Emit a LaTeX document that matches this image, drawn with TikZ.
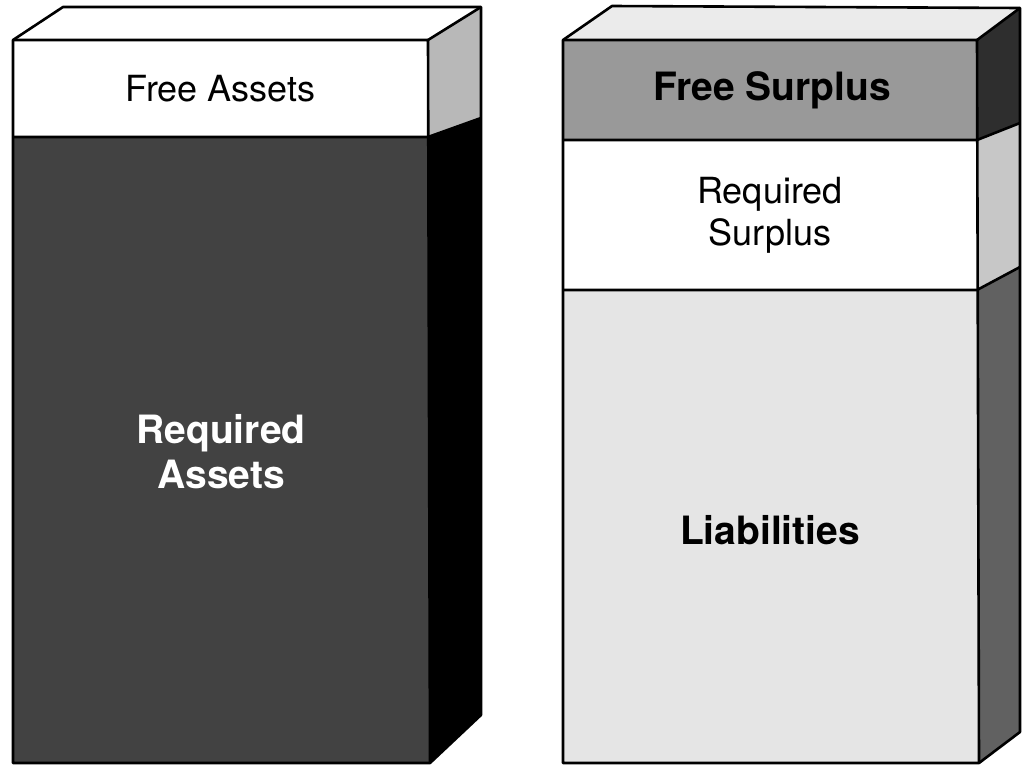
\documentclass[tikz,border=0pt]{standalone}
\usepackage{fontspec}
\setmainfont{TeX Gyre Heros}
\usetikzlibrary{calc}
\colorlet{TopFace}{white}
\colorlet{TopFaceDotted}{black!8}
\colorlet{FreeAssetsFront}{white}
\colorlet{RequiredAssetsFront}{black!74}
\colorlet{FreeAssetsSide}{black!28}
\colorlet{RequiredAssetsSide}{black}
\colorlet{FreeSurplusFront}{black!40}
\colorlet{RequiredSurplusFront}{white}
\colorlet{LiabilitiesFront}{black!10}
\colorlet{FreeSurplusSide}{black!82}
\colorlet{RequiredSurplusSide}{black!22}
\colorlet{LiabilitiesSide}{black!62}
\tikzset{
  label text/.style={font=\fontsize{36}{42}\selectfont, align=center},
  bold label/.style={font=\fontsize{39}{45}\selectfont\bfseries, align=center}
}

\begin{document}
\begin{tikzpicture}[x=1pt, y=-1pt, line width=2.6pt, line join=round]
    \useasboundingbox (0,0) rectangle (1022,766);

    % Caja izquierda: cara frontal, cara superior y cara lateral
    \coordinate (A) at (13, 40);
    \coordinate (B) at (428, 40);
    \coordinate (C) at (481, 7);
    \coordinate (D) at (63, 7);
    \coordinate (E) at (13, 137);
    \coordinate (F) at (428, 137);
    \coordinate (G) at (481, 118);
    \coordinate (H) at (13, 763);
    \coordinate (I) at (430, 763);
    \coordinate (J) at (481, 715);

    \fill[TopFace] (A) -- (D) -- (C) -- (B) -- cycle;
    \fill[FreeAssetsFront] (A) -- (B) -- (F) -- (E) -- cycle;
    \fill[RequiredAssetsFront] (E) -- (F) -- (I) -- (H) -- cycle;
    \fill[FreeAssetsSide] (B) -- (C) -- (G) -- (F) -- cycle;
    \fill[RequiredAssetsSide] (F) -- (G) -- (J) -- (I) -- cycle;

    \draw (H) -- (A) -- (D) -- (C) -- (J) -- (I) -- cycle;
    \draw (A) -- (B) -- (I);
    \draw (B) -- (C);
    \draw (E) -- (F) -- (G);

    \node[label text] (freeassets) at ($(A)!0.5!(F)$) {Free Assets};
    \node[bold label, text=white] (reqassets) at (221, 452) {Required\\Assets};

    % Caja derecha: tres franjas en la cara frontal y lateral
    \coordinate (K) at (563, 40);
    \coordinate (L) at (977, 40);
    \coordinate (M) at (1020, 8);
    \coordinate (N) at (612, 6);
    \coordinate (O) at (563, 140);
    \coordinate (P) at (977, 140);
    \coordinate (Q) at (1020, 123);
    \coordinate (R) at (563, 290);
    \coordinate (S) at (977, 290);
    \coordinate (T) at (1020, 267);
    \coordinate (U) at (563, 763);
    \coordinate (V) at (979, 763);
    \coordinate (W) at (1020, 732);

    \fill[TopFaceDotted] (K) -- (N) -- (M) -- (L) -- cycle;
    \fill[FreeSurplusFront] (K) -- (L) -- (P) -- (O) -- cycle;
    \fill[RequiredSurplusFront] (O) -- (P) -- (S) -- (R) -- cycle;
    \fill[LiabilitiesFront] (R) -- (S) -- (V) -- (U) -- cycle;
    \fill[FreeSurplusSide] (L) -- (M) -- (Q) -- (P) -- cycle;
    \fill[RequiredSurplusSide] (P) -- (Q) -- (T) -- (S) -- cycle;
    \fill[LiabilitiesSide] (S) -- (T) -- (W) -- (V) -- cycle;

    \draw (U) -- (K) -- (N) -- (M) -- (W) -- (V) -- cycle;
    \draw (K) -- (L) -- (V);
    \draw (L) -- (M);
    \draw (O) -- (P) -- (Q);
    \draw (R) -- (S) -- (T);

    \node[bold label] (freesurplus) at (772, 90) {Free Surplus};
    \node[label text] (reqsurplus) at ($(O)!0.5!(S)$) {Required\\Surplus};
    \node[bold label] (liabilities) at (770, 530) {Liabilities};
\end{tikzpicture}
\end{document}
